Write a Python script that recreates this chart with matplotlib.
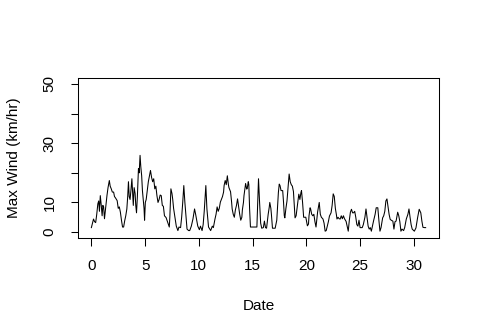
import matplotlib
matplotlib.use("Agg")
import matplotlib.pyplot as plt

plt.rcParams['font.family'] = ['Liberation Sans', 'DejaVu Sans']

# day of month (fractional) and max wind speed
day = [0.0, 0.1, 0.2, 0.3, 0.4, 0.5, 0.6, 0.68, 0.75, 0.83, 0.92, 1.0, 1.07, 1.14, 1.22, 1.3,
       1.38, 1.45, 1.55, 1.67, 1.75, 1.85, 1.95, 2.07, 2.15, 2.25, 2.4, 2.5, 2.6, 2.7, 2.8, 2.9,
       3.0, 3.1, 3.2, 3.3, 3.38, 3.45, 3.52, 3.6, 3.68, 3.77, 3.85, 3.9, 3.98, 4.07, 4.13, 4.2,
       4.28, 4.38, 4.45, 4.53, 4.6, 4.68, 4.75, 4.83, 4.9, 4.95, 5.02, 5.1, 5.2, 5.3, 5.4, 5.5,
       5.6, 5.7, 5.8, 5.9, 6.0, 6.1, 6.2, 6.3, 6.4, 6.5, 6.6, 6.7, 6.8, 6.95, 7.1, 7.25, 7.3,
       7.4, 7.5, 7.57, 7.65, 7.75, 7.9, 8.05, 8.15, 8.3, 8.4, 8.5, 8.6, 8.7, 8.8, 8.9, 9.05,
       9.15, 9.3, 9.45, 9.6, 9.7, 9.8, 9.9, 10.05, 10.15, 10.3, 10.4, 10.5, 10.65, 10.75, 10.9,
       11.1, 11.25, 11.35, 11.5, 11.6, 11.7, 11.8, 11.9, 12.0, 12.1, 12.2, 12.3, 12.35, 12.45,
       12.55, 12.65, 12.75, 12.8, 12.9, 12.95, 13.05, 13.1, 13.2, 13.3, 13.4, 13.5, 13.6, 13.7,
       13.8, 13.9, 14.0, 14.05, 14.15, 14.2, 14.3, 14.35, 14.45, 14.5, 14.6, 14.65, 14.72, 14.8,
       15.1, 15.4, 15.5, 15.55, 15.65, 15.75, 15.85, 16.0, 16.1, 16.2, 16.3, 16.45, 16.55, 16.6,
       16.7, 16.75, 16.85, 17.1, 17.25, 17.4, 17.48, 17.55, 17.65, 17.8, 17.88, 17.95, 18.0,
       18.1, 18.2, 18.3, 18.4, 18.5, 18.6, 18.7, 18.8, 18.9, 18.95, 19.05, 19.2, 19.3, 19.4,
       19.5, 19.55, 19.65, 19.75, 19.85, 19.95, 20.1, 20.2, 20.25, 20.35, 20.4, 20.5, 20.6, 20.7,
       20.8, 20.9, 21.05, 21.2, 21.3, 21.4, 21.55, 21.65, 21.75, 21.85, 21.95, 22.05, 22.15,
       22.3, 22.4, 22.5, 22.6, 22.7, 22.8, 22.85, 22.95, 23.05, 23.15, 23.25, 23.35, 23.45,
       23.55, 23.7, 23.8, 23.9, 24.0, 24.1, 24.2, 24.3, 24.4, 24.5, 24.6, 24.7, 24.8, 24.9, 25.0,
       25.1, 25.2, 25.3, 25.45, 25.55, 25.65, 25.75, 25.85, 25.95, 26.05, 26.15, 26.25, 26.4,
       26.5, 26.65, 26.75, 26.85, 26.95, 27.1, 27.2, 27.3, 27.4, 27.5, 27.6, 27.7, 27.8, 27.9,
       28.05, 28.15, 28.25, 28.35, 28.5, 28.6, 28.7, 28.8, 28.9, 29.05, 29.15, 29.3, 29.45,
       29.55, 29.65, 29.75, 29.85, 30.05, 30.2, 30.35, 30.5, 30.65, 30.75, 30.85, 31.0, 31.1]
wind = [1.5, 3, 4.4, 3.5, 3.2, 6, 9.5, 10.5, 7, 12.3, 9, 5.5, 9, 8.5, 4.5, 7.2,
        10, 12.3, 15, 17.4, 15.5, 14.6, 13.5, 13.5, 12, 11.5, 10.6, 8, 8.5, 6.7, 4, 1.7,
        1.7, 3.8, 5.5, 7.8, 12, 17, 12, 11, 14, 18, 12, 9, 15, 13, 9, 6.5,
        12, 21.4, 20, 25.9, 22, 19, 14, 11, 8, 4, 10, 11, 14, 17, 19, 20.8,
        18.5, 17, 18, 14.6, 15.5, 12.3, 10, 11, 12.5, 12.3, 9, 8.7, 5.5, 4.9, 3.3, 1.7, 5,
        14.6, 13, 11, 8, 5.5, 2, 0.5, 1.7, 1.5, 5, 10, 15.7, 10, 5.5, 1, 0.5,
        0.5, 2, 4.4, 7.8, 6, 4, 2, 0.8, 2, 0.5, 2.5, 7, 15.7, 7.8, 1.7,
        0.5, 2, 1.5, 4.4, 6, 8.5, 7, 8, 10.1, 11, 12, 13.5, 15.7, 17.4,
        16, 19, 16, 15, 14, 13.6, 10, 7.8, 6, 5, 7.5, 9, 11.2, 8.5,
        6, 4, 5, 7.5, 10, 12.3, 15, 16.4, 14.5, 14.7, 17, 16, 8, 1.7,
        1.7, 1.7, 12, 18, 10, 3, 1.3, 1.5, 3.7, 1.5, 1.3, 6, 8.4, 10,
        8, 6, 1.3, 1.3, 4, 13.4, 16.2, 15.7, 14, 14, 10, 5.5, 4.8,
        8, 10.5, 15, 19.6, 17, 16, 15.5, 13.7, 8, 4.8, 5.5, 10, 12.8, 11,
        13.4, 14, 10, 5, 5, 5, 2.1, 2.7, 5.5, 8.2, 7.8, 6, 5.5, 6,
        3.5, 1.7, 6.8, 10, 6, 5, 4.4, 3, 0.3, 0.5, 2, 3.5, 5.4,
        6.5, 9, 12.9, 12, 8, 5.8, 4.4, 5, 4.5, 4.4, 5.5, 4.5, 5.5,
        4.5, 3.6, 2, 0.3, 4, 6.7, 7.7, 6.5, 6.5, 7, 5, 2.5, 2, 4, 1.5,
        1.5, 1.5, 2.5, 5, 7.8, 5, 2, 1, 1.5, 0.3, 2, 3.7, 6,
        8.2, 8.2, 4, 0.3, 1.5, 4.8, 5.5, 7, 10.5, 11.2, 8.5, 6, 4.3, 4,
        3.7, 1, 3.5, 3.7, 6.7, 5.5, 3.5, 0.3, 1, 0.5, 1.5, 4.4, 6,
        7.8, 5, 2.5, 1, 0.3, 1.4, 4.8, 7.7, 6.5, 3.7, 1.6, 1.5, 1.5]

x_ticks = [0, 5, 10, 15, 20, 25, 30]
y_ticks = [0, 10, 20, 30, 40, 50]
y_labels = ['0', '10', '', '30', '', '50']

fig = plt.figure(figsize=(4.8, 3.35), dpi=100)
ax = fig.add_axes([0.1625, 0.2896, 0.7521, 0.4774])

ax.plot(day, wind, color='black', linewidth=0.75)

# R style 4% padding
xr = max(day) - min(day)
ax.set_xlim(min(day) - 0.04 * xr, max(day) + 0.04 * xr)
ax.set_ylim(0 - 0.04 * 50, 50 + 0.04 * 50)

ax.set_xticks(x_ticks)
ax.set_yticks(y_ticks)
ax.set_yticklabels(y_labels, rotation=90, va='center')
ax.tick_params(axis='both', direction='out', length=5.4, width=0.75,
               labelsize=11, colors='black', pad=10)
for s in ax.spines.values():
    s.set_linewidth(0.75)
    s.set_color('black')

cx = 0.1625 + 0.7521 / 2
cy = 0.2896 + 0.4774 / 2
fig.text(cx, 1 - 306 / 335, 'Date', ha='center', va='center', fontsize=11)
fig.text(14 / 480, cy, 'Max Wind (km/hr)', ha='center', va='center',
         rotation=90, fontsize=11)

fig.savefig('out.png', dpi=100)
